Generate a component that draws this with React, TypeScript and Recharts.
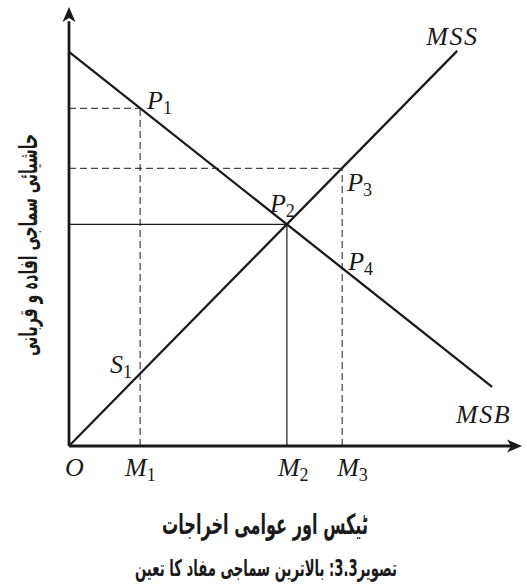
import React from "react";
import {
  ComposedChart,
  Line,
  XAxis,
  YAxis,
  ReferenceLine,
  ReferenceDot,
} from "recharts";

// quantity ticks on the horizontal axis (O, M1, M2, M3)
const qtyTicks = [0, 15.7, 48.1, 60.3];
const qtyNames = ["O", "M", "M", "M"];
const qtySubs = ["", "1", "2", "3"];

// end points of the two curves
const msbCurve = [
  { x: 0, y: 90 },
  { x: 93.4, y: 13.5 },
];
const mssCurve = [
  { x: 0, y: 0 },
  { x: 85.7, y: 90.2 },
];

// marked points
const pointNames = ["P", "P", "P", "P", "S"];
const pointSubs = ["1", "2", "3", "4", "1"];
const pointX = [15.7, 48.1, 60.3, 60.3, 15.7];
const pointY = [77.1, 50.6, 63.4, 40.6, 16.5];

// label nudges (pixels) for each point, kept apart from the data
const pointNudge = [
  [7, 1],
  [-17, -12],
  [5, 23],
  [6, 2],
  [-30, -1],
];
const tickNudge = [-4, -15, -9, -5];

const yTitle = "حاشیائی سماجی افادہ و قربانی";
const xTitle = "ٹیکس اور عوامی اخراجات";
const caption = "تصویر3.3: بالاترین سماجی مفاد کا تعین";

const ink = "#1a1a1a";
const mathFont = "'Liberation Serif', 'Times New Roman', serif";
const urduFont = "'DejaVu Sans', sans-serif";

const MathLabel = ({ x, y, name, sub }: any) => (
  <text x={x} y={y} fontFamily={mathFont} fontStyle="italic" fontSize={26} fill={ink}>
    {name}
    {sub && (
      <tspan fontStyle="normal" fontSize={18} dy={5}>
        {sub}
      </tspan>
    )}
  </text>
);

const QtyTick = (props: any) => {
  const { x, y, payload, index } = props;
  const i = index ?? qtyTicks.indexOf(payload.value);
  return (
    <MathLabel
      x={x + tickNudge[i]}
      y={y + 22}
      name={qtyNames[i]}
      sub={qtySubs[i]}
    />
  );
};

const dashed = "7 4";

export default function App() {
  return (
    <div style={{ position: "absolute", left: 0, top: 0, width: 527, height: 588, background: "#fff" }}>
      <ComposedChart
        width={527}
        height={588}
        margin={{ top: 8, right: 5, left: 69, bottom: 112 }}
      >
        <XAxis
          type="number"
          dataKey="x"
          domain={[0, 100]}
          ticks={qtyTicks}
          height={30}
          tickLine={false}
          axisLine={false}
          tick={<QtyTick />}
          interval={0}
        />
        <YAxis
          type="number"
          dataKey="y"
          domain={[0, 100]}
          width={0}
          tick={false}
          tickLine={false}
          axisLine={false}
        />

        {/* guide lines */}
        <ReferenceLine
          segment={[{ x: 0, y: pointY[0] }, { x: pointX[0], y: pointY[0] }]}
          stroke={ink}
          strokeWidth={1}
          strokeDasharray={dashed}
        />
        <ReferenceLine
          segment={[{ x: pointX[0], y: 0 }, { x: pointX[0], y: pointY[0] }]}
          stroke={ink}
          strokeWidth={1}
          strokeDasharray={dashed}
        />
        <ReferenceLine
          segment={[{ x: 0, y: pointY[2] }, { x: pointX[2], y: pointY[2] }]}
          stroke={ink}
          strokeWidth={1}
          strokeDasharray={dashed}
        />
        <ReferenceLine
          segment={[{ x: pointX[2], y: 0 }, { x: pointX[2], y: pointY[2] }]}
          stroke={ink}
          strokeWidth={1}
          strokeDasharray={dashed}
        />
        <ReferenceLine
          segment={[{ x: 0, y: pointY[1] }, { x: pointX[1], y: pointY[1] }]}
          stroke={ink}
          strokeWidth={1.2}
        />
        <ReferenceLine
          segment={[{ x: pointX[1], y: 0 }, { x: pointX[1], y: pointY[1] }]}
          stroke={ink}
          strokeWidth={1.2}
        />

        <Line
          data={msbCurve}
          dataKey="y"
          stroke={ink}
          strokeWidth={2.3}
          dot={false}
          activeDot={false}
          isAnimationActive={false}
        />
        <Line
          data={mssCurve}
          dataKey="y"
          stroke={ink}
          strokeWidth={2.3}
          dot={false}
          activeDot={false}
          isAnimationActive={false}
        />

        {/* axes */}
        <ReferenceLine
          segment={[{ x: 0, y: 0 }, { x: 98, y: 0 }]}
          stroke={ink}
          strokeWidth={2.8}
        />
        <ReferenceLine
          segment={[{ x: 0, y: 0 }, { x: 0, y: 97 }]}
          stroke={ink}
          strokeWidth={2.8}
        />
        <ReferenceDot
          x={100}
          y={0}
          r={0}
          shape={(p: any) => (
            <polygon
              points={`${p.cx},${p.cy} ${p.cx - 15},${p.cy - 6.5} ${p.cx - 11},${p.cy} ${p.cx - 15},${p.cy + 6.5}`}
              fill={ink}
            />
          )}
        />
        <ReferenceDot
          x={0}
          y={100}
          r={0}
          shape={(p: any) => (
            <polygon
              points={`${p.cx},${p.cy - 1} ${p.cx - 6.5},${p.cy + 14} ${p.cx},${p.cy + 10} ${p.cx + 6.5},${p.cy + 14}`}
              fill={ink}
            />
          )}
        />

        {/* point labels */}
        {pointX.map((px, i) => (
          <ReferenceDot
            key={i}
            x={px}
            y={pointY[i]}
            r={0}
            shape={(p: any) => (
              <MathLabel
                x={p.cx + pointNudge[i][0]}
                y={p.cy + pointNudge[i][1]}
                name={pointNames[i]}
                sub={pointSubs[i]}
              />
            )}
          />
        ))}

        {/* curve names */}
        <ReferenceDot
          x={mssCurve[1].x}
          y={mssCurve[1].y}
          r={0}
          shape={(p: any) => (
            <text x={p.cx - 31} y={p.cy - 6} fontFamily={mathFont} fontStyle="italic" fontSize={26} letterSpacing={1.5} fill={ink}>
              MSS
            </text>
          )}
        />
        <ReferenceDot
          x={msbCurve[1].x}
          y={msbCurve[1].y}
          r={0}
          shape={(p: any) => (
            <text x={p.cx - 36} y={p.cy + 36} fontFamily={mathFont} fontStyle="italic" fontSize={26} letterSpacing={1.5} fill={ink}>
              MSB
            </text>
          )}
        />

        {/* titles */}
        <g transform="translate(28 245) rotate(-90)">
          <text
            x={0}
            y={9}
            textAnchor="middle"
            direction="rtl"
            fontFamily={urduFont}
            fontWeight="bold"
            fontSize={25}
            textLength={222}
            lengthAdjust="spacingAndGlyphs"
            fill={ink}
          >
            {yTitle}
          </text>
        </g>
        <text
          x={265}
          y={534}
          textAnchor="middle"
          direction="rtl"
          fontFamily={urduFont}
          fontWeight="bold"
          fontSize={28}
          textLength={206}
          lengthAdjust="spacingAndGlyphs"
          fill={ink}
        >
          {xTitle}
        </text>
        <text
          x={266}
          y={576}
          textAnchor="middle"
          direction="rtl"
          fontFamily={urduFont}
          fontWeight="bold"
          fontSize={23}
          textLength={262}
          lengthAdjust="spacingAndGlyphs"
          fill={ink}
        >
          {caption}
        </text>
      </ComposedChart>
    </div>
  );
}
